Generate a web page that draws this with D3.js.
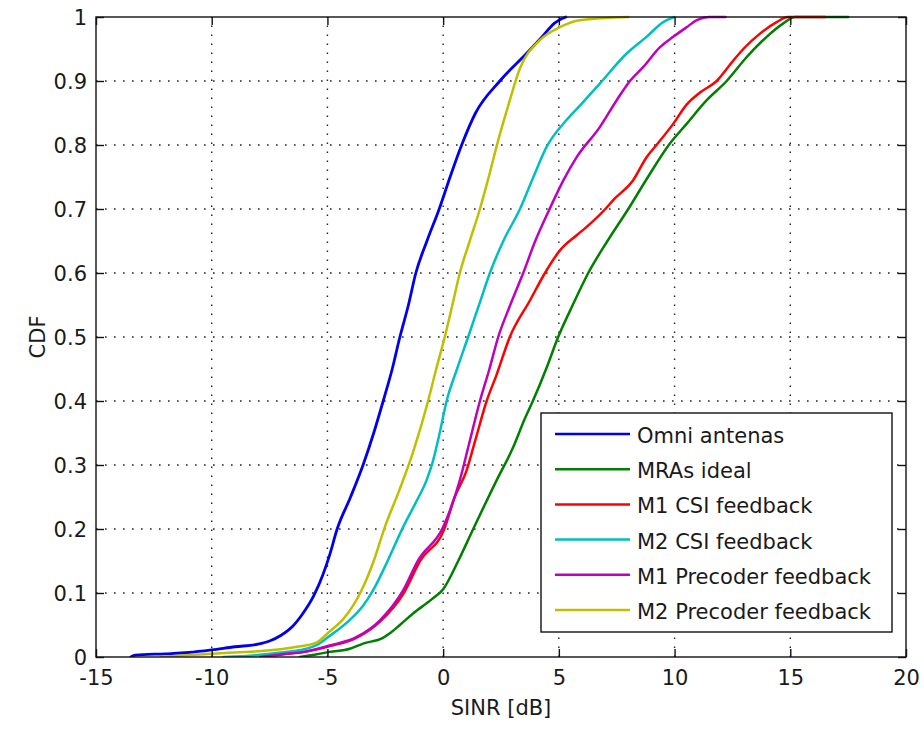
<!DOCTYPE html>
<html>
<head>
<meta charset="utf-8">
<script src="https://cdn.jsdelivr.net/npm/d3@7"></script>
<style>
  html, body { margin: 0; padding: 0; background: #ffffff; }
  svg { display: block; }
  text { font-family: "DejaVu Sans", sans-serif; fill: #1a1a1a; }
</style>
</head>
<body>
<svg id="chart" width="924" height="730"></svg>
<script>
// ---- data (SINR dB, CDF) ----
const omniAntenas = [[-13.5,0],[-13.3,0.003],[-12,0.005],[-11,0.007],[-10,0.011],[-9,0.016],[-8,0.02],[-7.5,0.025],[-7,0.034],[-6.5,0.048],[-6.1,0.066],[-5.6,0.095],[-5.2,0.128],[-4.9,0.16],[-4.58,0.2],[-4.0,0.25],[-3.46,0.3],[-3,0.35],[-2.59,0.4],[-2.2,0.45],[-1.87,0.5],[-1.5,0.55],[-1.18,0.6],[-0.7,0.65],[-0.17,0.7],[0.3,0.75],[0.8,0.8],[1.4,0.85],[2.45,0.9],[3.6,0.943],[4.3,0.97],[4.8,0.99],[5.3,1]];
const mrasIdeal = [[-6.2,0],[-5.5,0.004],[-4.9,0.008],[-4.03,0.013],[-3.46,0.021],[-2.6,0.03],[-2.3,0.037],[-1.87,0.05],[-1.3,0.068],[-0.5,0.09],[0,0.106],[0.65,0.15],[1.3,0.2],[2.31,0.276],[3.03,0.328],[3.5,0.37],[3.89,0.401],[4.45,0.45],[4.97,0.5],[5.6,0.55],[6.27,0.6],[7.1,0.65],[8.0,0.7],[8.85,0.75],[9.75,0.8],[10.52,0.833],[11.39,0.87],[12.25,0.9],[13.12,0.9375],[13.98,0.969],[14.7,0.99],[15.2,1],[17.5,1]];
const m1CsiFeedback = [[-7.9,0],[-7,0.004],[-6,0.008],[-4.9,0.017],[-3.75,0.03],[-2.74,0.055],[-1.7,0.1],[-1,0.15],[0.05,0.2],[0.5,0.25],[1.0,0.29],[1.4,0.34],[1.88,0.4],[2.3,0.44],[2.88,0.5],[3.75,0.557],[4.4,0.6],[5.04,0.635],[5.77,0.659],[6.2,0.672],[7.06,0.702],[7.35,0.714],[8.21,0.745],[8.79,0.781],[9.22,0.8],[9.94,0.833],[10.52,0.863],[11.1,0.882],[11.82,0.9],[12.54,0.932],[12.97,0.95],[13.69,0.974],[14.41,0.992],[14.9,1],[16.5,1]];
const m2CsiFeedback = [[-9.5,0],[-8,0.003],[-7,0.007],[-6,0.012],[-5.5,0.018],[-4.9,0.033],[-4.03,0.058],[-3.46,0.08],[-3.03,0.104],[-2.4,0.15],[-1.73,0.203],[-1.2,0.24],[-0.72,0.276],[-0.45,0.305],[-0.15,0.35],[0.15,0.4],[0.6,0.45],[1.08,0.5],[1.55,0.55],[2.02,0.6],[2.6,0.65],[3.32,0.7],[3.9,0.75],[4.47,0.797],[5.33,0.839],[6.0,0.865],[6.77,0.896],[7.93,0.943],[8.79,0.969],[9.51,0.992],[10,1]];
const m1PrecoderFeedback = [[-7.9,0],[-7,0.004],[-6,0.008],[-4.9,0.018],[-3.75,0.031],[-2.74,0.057],[-1.73,0.104],[-1.1,0.15],[0,0.203],[0.72,0.276],[1.1,0.33],[1.59,0.4],[2,0.45],[2.38,0.5],[2.9,0.55],[3.46,0.6],[3.98,0.65],[4.6,0.7],[5.2,0.745],[5.77,0.781],[6.77,0.828],[7.5,0.87],[8.07,0.9],[8.65,0.922],[9.37,0.953],[9.94,0.969],[10.52,0.984],[10.96,0.995],[11.5,1],[12.2,1]];
const m2PrecoderFeedback = [[-12.2,0],[-11,0.003],[-10,0.005],[-9,0.007],[-7.6,0.01],[-6.5,0.015],[-5.5,0.022],[-4.9,0.04],[-4.3,0.06],[-3.53,0.104],[-3.0,0.15],[-2.52,0.203],[-1.9,0.26],[-1.3,0.32],[-0.65,0.4],[-0.3,0.45],[0.07,0.5],[0.4,0.55],[0.72,0.6],[1.15,0.65],[1.59,0.7],[1.97,0.75],[2.4,0.81],[2.8,0.86],[3.32,0.92],[4.18,0.964],[5.04,0.984],[5.9,0.995],[8,1]];

const seriesNames = ["Omni antenas","MRAs ideal","M1 CSI feedback","M2 CSI feedback","M1 Precoder feedback","M2 Precoder feedback"];
const seriesData = [omniAntenas, mrasIdeal, m1CsiFeedback, m2CsiFeedback, m1PrecoderFeedback, m2PrecoderFeedback];
const seriesColors = ["#0000ee","#007f00","#ff0000","#00bfbf","#bf00bf","#bfbf00"];

const xTicks = [-15,-10,-5,0,5,10,15,20];
const yTicks = [0,0.1,0.2,0.3,0.4,0.5,0.6,0.7,0.8,0.9,1];
const xLabel = "SINR [dB]";
const yLabel = "CDF";

// ---- layout ----
const L = 96, R = 906, T = 17, B = 657;
const svg = d3.select("#chart");
const x = d3.scaleLinear().domain([-15, 20]).range([L, R]);
const y = d3.scaleLinear().domain([0, 1]).range([B, T]);

svg.append("rect").attr("x",0).attr("y",0).attr("width",924).attr("height",730).attr("fill","#fff");

// grid
const grid = svg.append("g").attr("stroke","#222").attr("stroke-width",1.4).attr("stroke-dasharray","1.6,7.4");
grid.selectAll("line.vx").data(xTicks.slice(1,-1)).join("line")
  .attr("x1", d => x(d)).attr("x2", d => x(d)).attr("y1", B).attr("y2", T);
grid.selectAll("line.hy").data(yTicks.slice(1,-1)).join("line")
  .attr("y1", d => y(d)).attr("y2", d => y(d)).attr("x1", L).attr("x2", R);

// curves
const line = d3.line().x(d => x(d[0])).y(d => y(d[1])).curve(d3.curveMonotoneX);
svg.append("clipPath").attr("id","clip").append("rect")
  .attr("x", L).attr("y", T - 2).attr("width", R - L).attr("height", B - T + 2);
const curves = svg.append("g").attr("clip-path","url(#clip)");
seriesData.forEach((d, i) => {
  curves.append("path").datum(d).attr("d", line)
    .attr("fill","none").attr("stroke", seriesColors[i])
    .attr("stroke-width", i === 0 ? 2.8 : 2.5)
    .attr("stroke-linejoin","round").attr("stroke-linecap","round");
});

// axes
const fontSize = 21;
const fmtX = d => String(d).replace("\u2212", "-");
const axB = svg.append("g").attr("transform", `translate(0,${B})`)
  .call(d3.axisBottom(x).tickValues(xTicks).tickSizeInner(-8).tickSizeOuter(0).tickFormat(fmtX));
axB.selectAll("text").attr("y", 28).attr("dy", 0).style("font-size", fontSize+"px").style("font-family","DejaVu Sans");
const axT = svg.append("g").attr("transform", `translate(0,${T})`)
  .call(d3.axisTop(x).tickValues(xTicks).tickSizeInner(-8).tickSizeOuter(0).tickFormat(""));
const axLft = svg.append("g").attr("transform", `translate(${L},0)`)
  .call(d3.axisLeft(y).tickValues(yTicks).tickSizeInner(-8).tickSizeOuter(0).tickFormat(d => String(+d.toFixed(1))));
axLft.selectAll("text").attr("x", -9).attr("dy", "0.36em").style("font-size", fontSize+"px").style("font-family","DejaVu Sans");
const axR = svg.append("g").attr("transform", `translate(${R},0)`)
  .call(d3.axisRight(y).tickValues(yTicks).tickSizeInner(-8).tickSizeOuter(0).tickFormat(""));
[axB, axT, axLft, axR].forEach(a => {
  a.select(".domain").remove();
  a.selectAll("line").attr("stroke","#111").attr("stroke-width",1.4);
  a.selectAll("text").attr("fill","#1a1a1a");
});

// box
svg.append("rect").attr("x", L).attr("y", T).attr("width", R - L).attr("height", B - T)
  .attr("fill","none").attr("stroke","#111").attr("stroke-width",1.4);

// labels
svg.append("text").attr("x", (L + R) / 2).attr("y", 715).attr("text-anchor","middle")
  .style("font-size", fontSize+"px").text(xLabel);
svg.append("text").attr("transform", `translate(45,${(T + B) / 2}) rotate(-90)`).attr("text-anchor","middle")
  .style("font-size", fontSize+"px").text(yLabel);

// legend
const lg = svg.append("g");
lg.append("rect").attr("x", 541).attr("y", 413).attr("width", 351).attr("height", 219)
  .attr("fill","#fff").attr("stroke","#111").attr("stroke-width",1.4);
seriesNames.forEach((name, i) => {
  const ry = 434 + i * 35.2;
  lg.append("line").attr("x1", 555).attr("x2", 630).attr("y1", ry).attr("y2", ry)
    .attr("stroke", seriesColors[i]).attr("stroke-width", 2.5);
  lg.append("text").attr("x", 637).attr("y", ry + 9).style("font-size", fontSize+"px").text(name);
});
</script>
</body>
</html>
